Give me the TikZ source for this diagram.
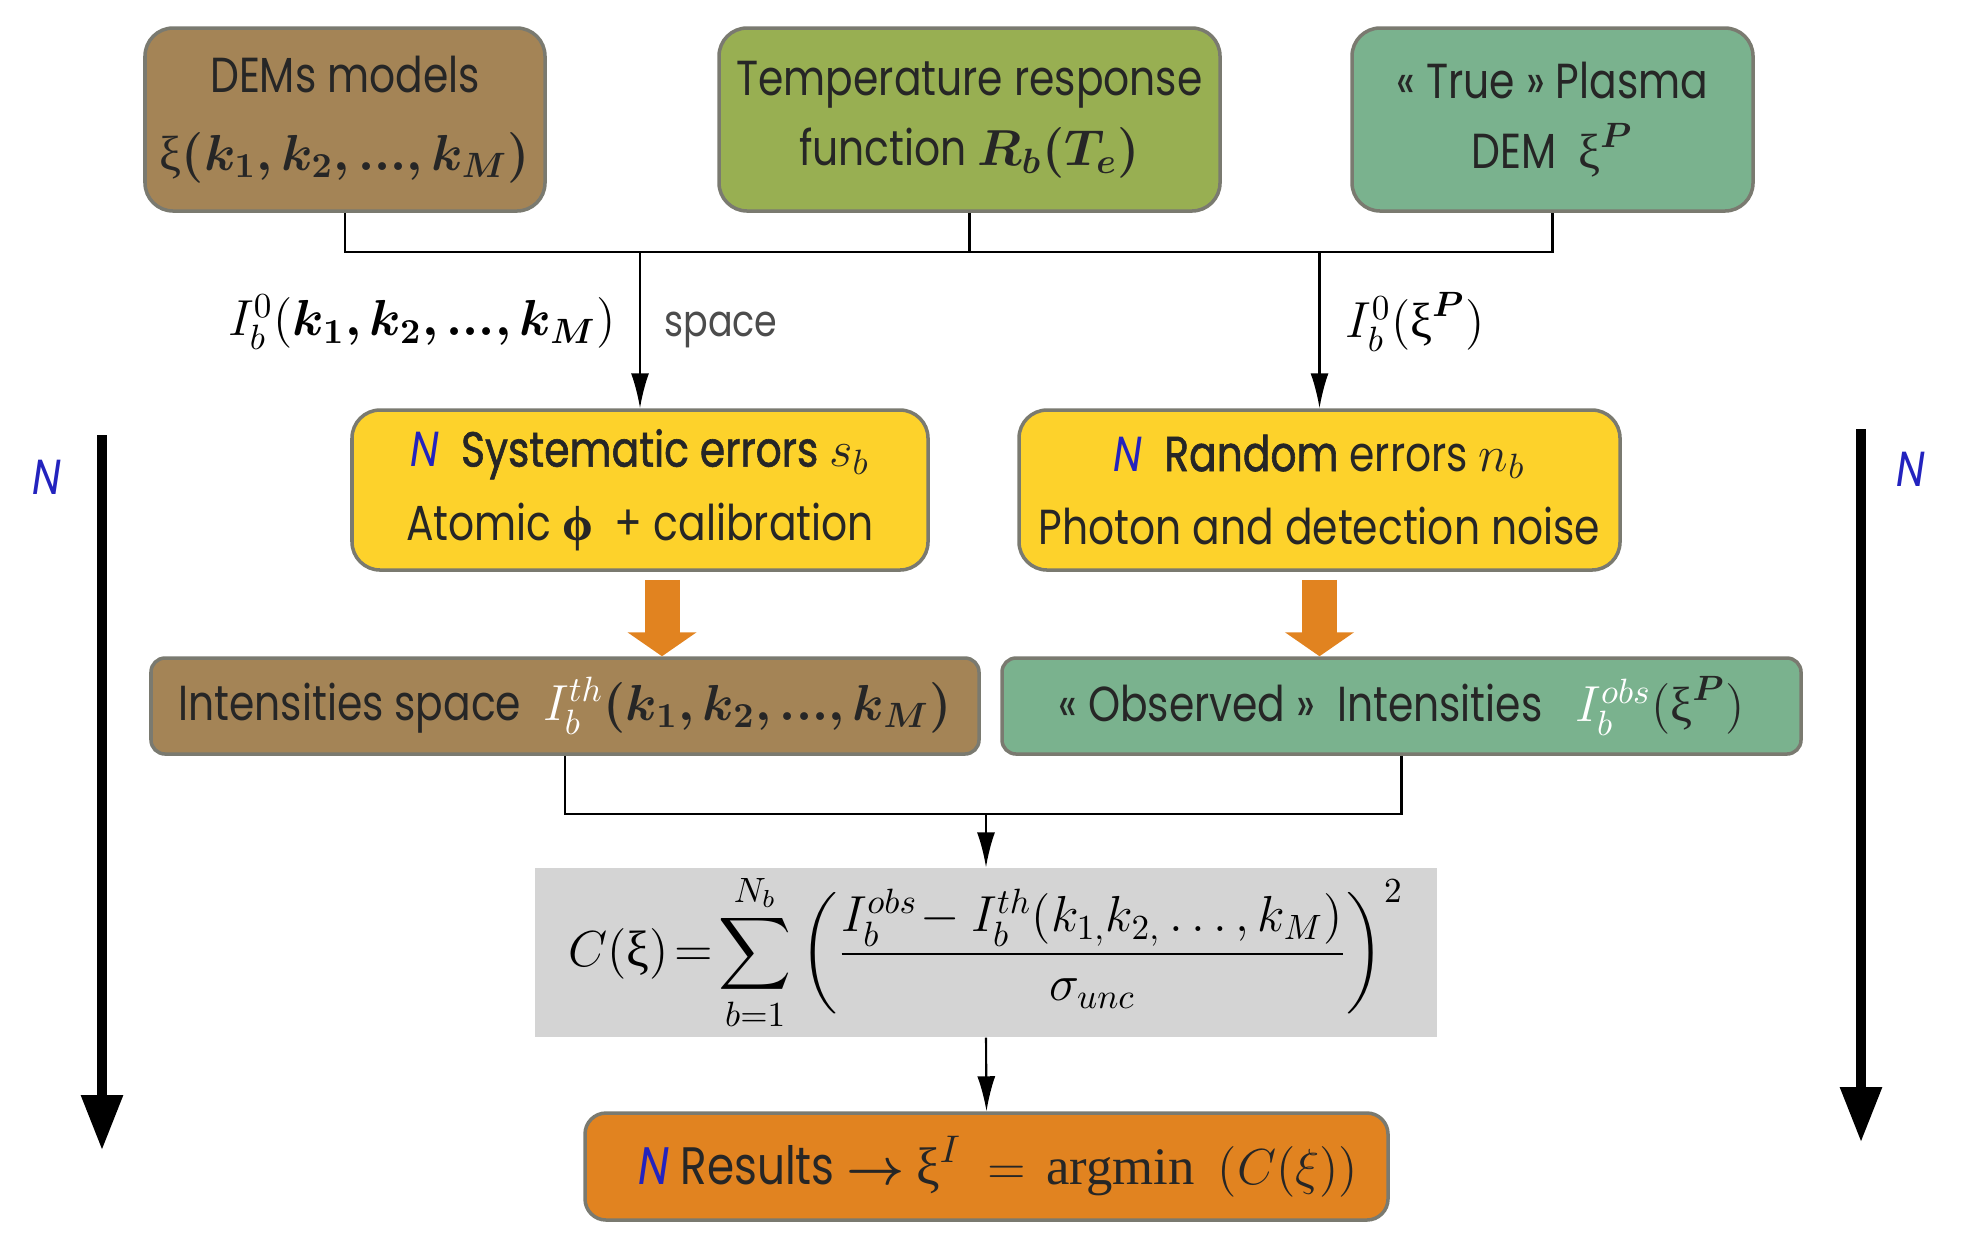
\documentclass[tikz,border=0pt]{standalone}
\usepackage{amsmath,bm}
\usepackage{fontspec}
\setmainfont[FakeStretch=0.83]{Poppins}
\newfontfamily\midfont[FakeStretch=0.83,FakeBold=1.2]{Poppins}
\newfontfamily\timesfont{Liberation Serif}
\usetikzlibrary{arrows.meta,calc}

\definecolor{demcol}{RGB}{164,132,86}
\definecolor{respcol}{RGB}{152,175,82}
\definecolor{plasmacol}{RGB}{122,178,142}
\definecolor{errcol}{RGB}{253,210,43}
\definecolor{fatcol}{RGB}{225,131,32}
\definecolor{costcol}{RGB}{212,212,212}
\definecolor{boxline}{RGB}{122,122,112}
\definecolor{nblue}{RGB}{35,35,190}
\newcommand{\nmark}{{\color{nblue}\itshape N}}
\newcommand{\uxi}{\text{\timesfont ξ}}
\newcommand{\kseq}{\bm{k_1,k_2,...,k_M}}

\begin{document}
\begin{tikzpicture}[
  font=\fontsize{14}{17}\selectfont,
  box/.style={draw=boxline, line width=1pt, rounded corners=8pt, align=center,
    inner sep=0pt, text=black!85},
  topbox/.style={box, minimum height=1.83cm},
  errbox/.style={box, fill=errcol, minimum height=1.6cm},
  intbox/.style={box, rounded corners=4pt, minimum height=0.96cm},
  wire/.style={line width=0.6pt},
  flow/.style={wire, -{Latex[length=3.5mm,width=1.8mm]}},
  loopdir/.style={line width=2.6pt, -{Triangle[length=5.5mm,width=4mm]}},
  fat/.style={fatcol, line width=3.5mm, -{Triangle[length=2.4mm,width=6.8mm]}},
  nlab/.style={text=nblue, font=\fontsize{14}{17}\selectfont\itshape}
]
\useasboundingbox (0,0) rectangle (19.78,-12.40);

\node[topbox, fill=demcol, minimum width=4cm] (dem) at (3.45,-1.195)
  {DEMs models\\[5pt] $\uxi\bm{(}\kseq\bm{)}$};
\node[topbox, fill=respcol, minimum width=5.01cm] (resp) at (9.695,-1.195)
  {Temperature response\\[3pt] function $\bm{R_b(T_e)}$};
\node[topbox, fill=plasmacol, minimum width=4.01cm] (plasma) at (15.525,-1.195)
  {« True » Plasma\\[3pt] DEM\ \ $\uxi^{\bm{P}}$};

\node[errbox, minimum width=5.76cm] (syserr) at (6.40,-4.90)
  {\nmark\ \ {\midfont Systematic errors} $s_b$\\[4pt] Atomic {\timesfont\bfseries ϕ}\ \ + calibration};
\node[errbox, minimum width=6.01cm] (randerr) at (13.195,-4.90)
  {\nmark\ \ {\midfont Random} errors $n_b$\\[4pt] Photon and detection noise};

\node[intbox, fill=demcol, minimum width=8.28cm] (thspace) at (5.65,-7.06)
  {Intensities space\ \ {\color{white}$I_b^{th}$}$\bm{(}\kseq\bm{)}$};
\node[intbox, fill=plasmacol, minimum width=7.99cm] (obsint) at (14.015,-7.06)
  {« Observed »\ \ Intensities\ \ \ {\color{white}$I_b^{obs}$}$(\uxi^{\bm{P}})$};

\node[fill=costcol, minimum width=9.02cm, minimum height=1.69cm, inner sep=0pt,
  font=\fontsize{14.5}{17}\selectfont] (cost) at (9.86,-9.525)
  {$\displaystyle C(\uxi)\!=\!\sum_{b=1}^{N_b}\left(\frac{I_b^{obs}\!-I_b^{th}(k_{1,}k_{2,}\ldots,k_M)}{\sigma_{unc}}\right)^{2}$};

\node[box, fill=fatcol, rounded corners=6pt, minimum width=8.03cm, minimum height=1.07cm,
  font=\fontsize{15}{18}\selectfont] (result) at (9.865,-11.665)
  {\ \ \nmark\ Results $\bm{\rightarrow}$ $\uxi^{I}\ =\ $\,{\timesfont argmin}\ \ $(C(\xi))$};

\coordinate (bus) at ($(resp.south)+(0,-0.39)$);
\draw[wire] (dem.south) -- ++(0,-0.39) -| (plasma.south);
\draw[wire] (resp.south) -- (bus);
\draw[flow] (syserr.north |- bus) -- (syserr.north);
\draw[flow] (randerr.north |- bus) -- (randerr.north);

\node[anchor=east] (lab0) at ($(syserr.north |- bus)!0.45!(syserr.north)+(-0.12,0)$)
  {$I_b^0(\kseq)$};
\node[anchor=west, text=black!70, font=\fontsize{12.5}{15}\selectfont] (labsp)
  at ($(syserr.north |- bus)!0.5!(syserr.north)+(0.12,0)$) {space};
\node[anchor=west] (labP) at ($(randerr.north |- bus)!0.45!(randerr.north)+(0.14,0)$)
  {$I_b^0(\uxi^{\bm{P}})$};

\coordinate (sysfoot) at ([xshift=2.2mm,yshift=-0.8mm]syserr.south);
\coordinate (randfoot) at ([yshift=-0.8mm]randerr.south);
\draw[fat] (sysfoot) -- (sysfoot |- thspace.north);
\draw[fat] (randfoot) -- (randfoot |- obsint.north);

\coordinate (merge) at ($(thspace.south)+(0,-0.58)$);
\draw[wire] (thspace.south) -- (merge) -| (obsint.south);
\draw[flow] (cost.north |- merge) -- (cost.north);
\draw[flow] (cost.south) -- (result.north);

\coordinate (ltop) at (1.02,-4.35);
\coordinate (lbot) at (1.02,-11.50);
\coordinate (rtop) at (18.61,-4.29);
\coordinate (rbot) at (18.61,-11.42);
\draw[loopdir] (ltop) -- (lbot);
\draw[loopdir] (rtop) -- (rbot);
\node[nlab] (nleft) at (0.47,-4.77) {N};
\node[nlab] (nright) at (19.11,-4.69) {N};
\end{tikzpicture}
\end{document}
